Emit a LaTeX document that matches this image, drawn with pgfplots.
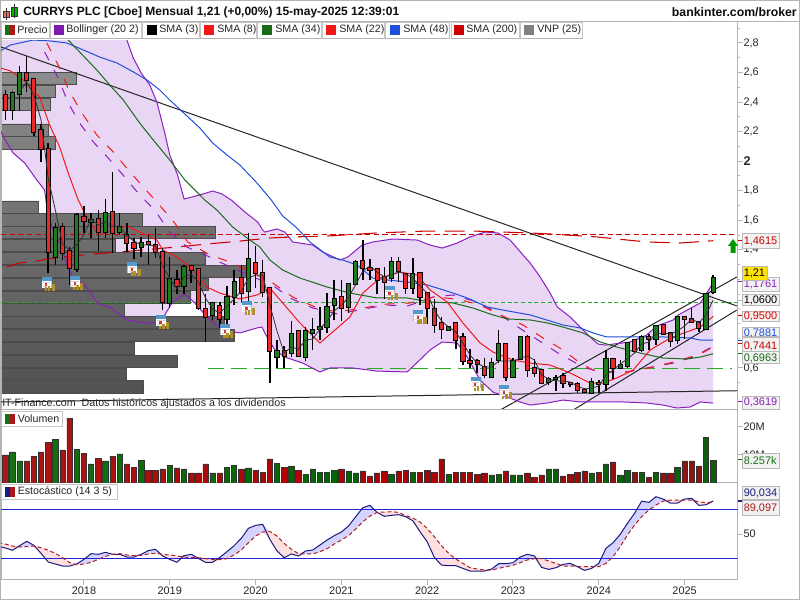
\documentclass[border=0pt]{standalone}
\usepackage{fontspec}
\setmainfont{Liberation Sans}
\usepackage{pgfplots}
\usepackage{pgfplotstable}
\usepgfplotslibrary{fillbetween}
\pgfplotsset{compat=1.18}
\definecolor{cred}{HTML}{E82A2A}
\definecolor{cgreen}{HTML}{1C7C1C}
\definecolor{bolpur}{HTML}{8A1FC0}
\definecolor{bolfill}{HTML}{E9D6F4}
\definecolor{smablue}{HTML}{1F4FD8}
\definecolor{smagreen}{HTML}{1A6B1A}
\definecolor{smared}{HTML}{F01818}
\definecolor{darkr}{HTML}{CC0000}
\definecolor{levelg}{HTML}{22B022}
\definecolor{frame}{HTML}{B4B4B4}
\definecolor{vred}{HTML}{A81818}
\definecolor{vgreen}{HTML}{137013}
\definecolor{stk}{HTML}{1A1A80}
\definecolor{std}{HTML}{B02020}
\definecolor{stline}{HTML}{2424D0}
\definecolor{calblue}{HTML}{5599CC}
\definecolor{calgold}{HTML}{B0902A}
\definecolor{calred}{HTML}{DD3333}
\pgfdeclareplotmark{divcal}{%
  \pgfsetfillcolor{gray!55}\pgfpathrectangle{\pgfpoint{-5.0pt}{-3.2pt}}{\pgfpoint{7.6pt}{8pt}}\pgfusepathqfill
  \pgfsetfillcolor{white}\pgfpathrectangle{\pgfpoint{-4.6pt}{-2.8pt}}{\pgfpoint{6.8pt}{5.4pt}}\pgfusepathqfill
  \pgfsetfillcolor{gray!35}\pgfpathrectangle{\pgfpoint{-4pt}{-2.2pt}}{\pgfpoint{5.6pt}{0.7pt}}\pgfusepathqfill
  \pgfpathrectangle{\pgfpoint{-4pt}{1.0pt}}{\pgfpoint{5.6pt}{0.7pt}}\pgfusepathqfill
  \pgfsetfillcolor{calblue}\pgfpathrectangle{\pgfpoint{-5.0pt}{2.4pt}}{\pgfpoint{7.6pt}{2.8pt}}\pgfusepathqfill
  \pgfsetfillcolor{calred}\pgfpathrectangle{\pgfpoint{-2.4pt}{-1.2pt}}{\pgfpoint{1.8pt}{1.8pt}}\pgfusepathqfill
  \pgfsetfillcolor{calgold}\pgfpathrectangle{\pgfpoint{-2.6pt}{-5.0pt}}{\pgfpoint{1.6pt}{2.4pt}}\pgfusepathqfill
  \pgfpathrectangle{\pgfpoint{-0.4pt}{-5.0pt}}{\pgfpoint{1.9pt}{3.4pt}}\pgfusepathqfill
  \pgfpathrectangle{\pgfpoint{2.6pt}{-5.0pt}}{\pgfpoint{2.3pt}{5.2pt}}\pgfusepathqfill
}

\pgfplotstableread{
m l h b t
-11 2.279 2.482 2.346 2.448
-8 2.468 2.712 2.550 2.597
-7 2.170 2.557 2.197 2.557
-6 1.994 2.252 2.082 2.211
-5 1.243 2.123 1.385 2.082
-3 1.331 1.581 1.378 1.554
-2 1.162 1.419 1.277 1.392
0 1.514 1.696 1.595 1.622
2 1.392 1.669 1.520 1.609
4 1.378 1.927 1.514 1.656
6 1.385 1.581 1.446 1.500
7 1.338 1.480 1.412 1.446
9 1.297 1.500 1.439 1.453
10 1.344 1.547 1.385 1.432
11 0.992 1.412 1.047 1.385
13 1.101 1.263 1.155 1.196
15 1.175 1.297 1.263 1.290
16 0.992 1.270 1.006 1.270
17 0.776 1.101 0.945 0.999
19 0.871 1.047 0.932 1.020
22 1.047 1.297 1.107 1.209
24 1.141 1.426 1.243 1.311
25 1.080 1.331 1.114 1.243
26 0.498 1.148 0.715 1.141
28 0.600 0.749 0.681 0.715
30 0.681 0.850 0.681 0.850
36 0.918 1.196 1.006 1.080
39 1.196 1.466 1.277 1.324
40 1.196 1.338 1.263 1.277
41 1.101 1.277 1.196 1.270
42 1.067 1.284 1.182 1.216
44 1.182 1.351 1.256 1.317
45 1.101 1.236 1.141 1.236
47 1.026 1.243 1.080 1.243
48 0.898 1.107 1.006 1.107
49 0.837 1.067 0.891 0.999
50 0.796 0.945 0.864 0.905
52 0.728 0.905 0.789 0.905
53 0.620 0.837 0.647 0.810
54 0.600 0.728 0.633 0.647
55 0.566 0.661 0.627 0.647
56 0.532 0.667 0.552 0.606
59 0.511 0.769 0.539 0.762
62 0.539 0.823 0.586 0.810
63 0.539 0.661 0.566 0.600
64 0.491 0.593 0.498 0.586
67 0.464 0.566 0.498 0.545
68 0.471 0.505 0.491 0.498
69 0.431 0.505 0.451 0.491
70 0.431 0.464 0.437 0.451
72 0.431 0.518 0.491 0.498
74 0.525 0.661 0.600 0.661
77 0.701 0.796 0.715 0.789
79 0.722 0.830 0.796 0.810
81 0.823 0.898 0.830 0.891
82 0.742 0.844 0.782 0.837
84 0.796 0.945 0.932 0.945
85 0.905 1.006 0.911 0.932
86 0.844 0.918 0.871 0.911
}\candlered
\pgfplotstableread{
m l h b t
-10 2.279 2.475 2.346 2.461
-9 2.339 2.644 2.455 2.597
-4 1.297 1.581 1.351 1.547
-1 1.250 1.649 1.270 1.635
1 1.480 1.649 1.588 1.602
3 1.480 1.744 1.520 1.649
5 1.500 1.649 1.520 1.554
8 1.351 1.487 1.419 1.446
12 1.006 1.351 1.040 1.202
14 1.101 1.297 1.155 1.284
18 0.925 1.047 0.959 1.040
20 0.891 1.155 0.932 1.080
21 1.026 1.263 1.080 1.182
23 1.040 1.514 1.121 1.338
27 0.600 0.789 0.674 0.715
29 0.674 0.918 0.701 0.830
31 0.647 0.877 0.674 0.850
32 0.722 0.938 0.837 0.857
33 0.789 1.013 0.864 0.877
34 0.837 1.107 0.877 1.013
35 0.925 1.196 1.026 1.067
37 0.972 1.175 1.013 1.169
38 1.162 1.331 1.169 1.317
43 1.182 1.351 1.209 1.317
46 1.101 1.344 1.141 1.236
51 0.850 0.877 0.857 0.877
57 0.539 0.667 0.539 0.633
58 0.633 0.857 0.654 0.762
60 0.532 0.667 0.539 0.647
61 0.654 0.810 0.661 0.810
65 0.484 0.539 0.505 0.525
66 0.444 0.552 0.525 0.532
71 0.431 0.532 0.431 0.505
73 0.444 0.722 0.491 0.661
75 0.600 0.654 0.600 0.620
76 0.600 0.776 0.613 0.769
78 0.708 0.823 0.722 0.810
80 0.755 0.891 0.796 0.884
83 0.762 0.952 0.789 0.945
87 0.857 1.107 0.864 1.101
88 1.101 1.229 1.114 1.209
}\candlegreen
\pgfplotstableread{
m v
-11 10.0
-8 7.9
-7 9.6
-6 11.1
-5 14.6
-3 11.8
-2 23.2
0 10.7
2 8.9
4 9.6
6 6.8
7 5.7
9 4.6
10 4.6
11 5.0
13 5.4
15 3.6
16 3.6
17 6.8
19 3.6
22 5.0
24 4.6
25 3.9
26 8.6
28 5.7
30 4.6
36 5.0
39 4.3
40 2.5
41 3.6
42 4.3
44 4.3
45 4.6
47 3.9
48 4.6
49 3.9
50 8.6
52 3.9
53 3.9
54 3.9
55 3.2
56 3.6
59 4.3
62 3.6
63 2.1
64 2.9
67 2.5
68 3.2
69 3.9
70 4.3
72 3.9
74 7.5
77 3.9
79 2.1
81 3.6
82 3.6
84 7.9
85 7.9
86 6.1
}\volred
\pgfplotstableread{
m v
-10 11.1
-9 7.9
-4 15.7
-1 12.1
1 6.8
3 7.9
5 10.4
8 8.2
12 6.4
14 5.0
18 3.6
20 5.7
21 6.4
23 5.4
27 7.1
29 6.1
31 3.2
32 5.0
33 3.9
34 3.9
35 4.6
37 4.3
38 3.6
43 3.2
46 3.9
51 3.2
57 2.9
58 3.2
60 2.9
61 2.9
65 5.0
66 5.0
71 3.6
73 6.8
75 2.9
76 4.6
78 3.9
80 3.9
83 5.7
87 16.4
88 8.2
}\volgreen
\pgfplotstableread{
m p
-11.7 3.30
3.6 3.09
5.0 2.942
6.0 2.820
6.9 2.698
8.0 2.597
9.2 2.516
10.2 2.400
11.3 2.191
12.0 2.042
13.1 1.906
14.0 1.744
16.2 1.771
18.0 1.798
19.3 1.778
20.6 1.737
22.5 1.656
24.3 1.588
25.0 1.534
25.3 1.520
27.0 1.541
28.1 1.520
29.2 1.453
32.0 1.432
33.4 1.385
35.8 1.331
36.9 1.351
38.9 1.432
40.4 1.453
43.2 1.473
46.6 1.466
48.4 1.432
50.1 1.412
52.2 1.446
54.0 1.487
56.1 1.520
57.9 1.514
59.6 1.466
61.4 1.365
62.4 1.311
63.8 1.216
65.2 1.107
66.2 1.013
68.0 0.945
69.4 0.877
70.8 0.810
71.9 0.762
72.9 0.755
76.4 0.776
78.7 0.823
80.1 0.884
82.4 0.925
83.1 0.959
86.2 1.040
86.9 1.094
88.0 1.176
}\bolup
\pgfplotstableread{
m p
-11.7 2.211
-11.0 2.143
-9.9 2.055
-8.3 1.988
-6.6 1.873
-5.5 1.805
-5.2 1.690
-4.5 1.554
-3.4 1.446
-2.4 1.311
-1.5 1.196
-0.1 1.175
1.1 1.094
2.0 1.033
3.6 1.013
6.0 0.925
8.3 0.905
10.2 0.905
11.3 0.959
12.4 1.047
14.1 1.101
15.5 1.040
16.6 0.979
18.0 0.911
19.4 0.857
21.8 0.837
24.2 0.871
24.9 0.877
25.3 0.837
26.7 0.722
28.1 0.674
30.6 0.633
33.0 0.573
34.4 0.600
37.6 0.600
41.0 0.579
45.2 0.573
47.4 0.674
48.4 0.722
50.1 0.776
52.2 0.769
53.6 0.674
55.4 0.518
57.2 0.437
59.2 0.403
61.0 0.370
62.4 0.349
64.8 0.363
67.0 0.383
69.4 0.370
71.7 0.370
75.4 0.370
78.7 0.363
81.0 0.349
82.9 0.329
84.8 0.336
86.2 0.370
88.0 0.362
}\bollo
\pgfplotstableread{
m p
-5.5 2.739
-3.6 2.563
-2.2 2.394
-0.6 2.258
1.3 2.130
3.4 2.021
5.7 1.893
7.8 1.771
9.9 1.669
12.0 1.520
14.4 1.419
17.6 1.351
20.4 1.284
26.3 1.162
29.1 1.067
32.0 1.006
35.5 0.965
42.1 1.026
45.3 1.020
48.8 1.080
51.6 1.094
55.0 1.047
57.9 0.972
60.7 0.877
63.5 0.789
66.3 0.701
69.8 0.606
72.2 0.573
75.9 0.573
78.7 0.600
82.4 0.633
85.2 0.674
87.8 0.742
}\bolmid
\pgfplotstableread{
m p
-9 2.468
-8 2.536
-7 2.448
-6 2.279
-5 1.886
-4 1.669
-3 1.439
-2 1.399
-1 1.432
0 1.500
1 1.609
2 1.568
3 1.588
4 1.561
5 1.561
6 1.493
7 1.459
8 1.432
9 1.432
10 1.426
11 1.290
12 1.209
13 1.135
14 1.216
15 1.236
16 1.182
17 1.074
18 0.999
19 0.972
20 1.020
21 1.067
22 1.121
23 1.209
24 1.229
25 1.229
26 1.026
27 0.850
28 0.701
29 0.742
30 0.728
31 0.789
32 0.796
33 0.864
34 0.918
35 0.986
36 1.026
37 1.080
38 1.162
39 1.256
40 1.290
41 1.250
42 1.216
43 1.229
44 1.250
45 1.236
46 1.209
47 1.155
48 1.107
49 0.992
50 0.918
51 0.877
52 0.844
53 0.769
54 0.688
55 0.633
56 0.606
57 0.606
58 0.647
59 0.647
60 0.647
61 0.667
62 0.681
63 0.654
64 0.552
65 0.525
66 0.512
67 0.512
68 0.505
69 0.478
70 0.458
71 0.464
72 0.478
73 0.552
74 0.586
75 0.627
76 0.661
77 0.701
78 0.762
79 0.776
80 0.830
81 0.837
82 0.830
83 0.850
84 0.884
85 0.932
86 0.905
87 0.959
88 1.060
}\smathree
\pgfplotstableread{
m p
-11.7 2.631
-10.3 2.611
-8.5 2.550
-6.2 2.434
-4.8 2.245
-3.4 2.096
-2.2 1.920
-0.8 1.737
0.1 1.649
2.0 1.500
3.2 1.520
6.0 1.561
7.8 1.520
10.2 1.466
11.0 1.399
13.0 1.351
14.8 1.284
17.2 1.148
19.0 1.107
21.8 1.067
24.2 1.094
26.0 1.141
27.8 1.040
30.2 0.905
33.0 0.769
37.2 0.945
39.0 1.107
41.4 1.209
44.2 1.250
46.6 1.229
48.4 1.128
50.8 1.047
53.0 0.905
55.4 0.769
57.2 0.708
60.0 0.654
62.4 0.633
65.2 0.620
68.0 0.566
70.8 0.498
72.6 0.498
74.5 0.532
76.8 0.586
79.2 0.722
82.0 0.803
84.3 0.844
86.2 0.877
88.0 0.950
}\smaeight
\pgfplotstableread{
m p
-3.4 2.888
-2.2 2.820
-0.6 2.739
1.8 2.617
3.6 2.516
5.5 2.414
7.8 2.258
9.7 2.143
12.0 2.008
14.1 1.873
16.9 1.737
18.6 1.669
20.8 1.554
23.2 1.466
24.6 1.419
26.0 1.331
27.8 1.263
30.2 1.209
34.0 1.148
37.2 1.107
41.0 1.074
45.2 1.074
48.4 1.047
51.6 1.040
54.4 1.006
57.2 0.959
59.2 0.932
62.4 0.925
64.8 0.905
67.0 0.877
69.8 0.837
72.2 0.776
74.5 0.742
77.8 0.701
81.0 0.667
84.3 0.661
86.2 0.674
88.0 0.696
}\smathirtyfour
\pgfplotstableread{
m p
-5.2 2.800
-3.4 2.631
-2.0 2.468
-0.1 2.313
1.8 2.177
4.1 2.062
6.2 1.940
8.3 1.825
10.3 1.717
12.7 1.581
14.5 1.453
17.6 1.365
20.8 1.311
26.4 1.175
29.2 1.080
32.3 1.013
35.4 0.979
39.0 1.006
42.4 1.033
45.6 1.040
48.8 1.080
52.2 1.067
55.4 1.026
58.2 0.959
61.4 0.891
64.2 0.803
67.0 0.722
69.4 0.633
71.7 0.573
75.9 0.573
79.6 0.606
82.4 0.640
86.2 0.694
88.0 0.744
}\smatwentytwo
\pgfplotstableread{
m p
-11.7 2.746
-10.3 2.786
-7.1 2.820
-4.8 2.814
-2.4 2.800
-0.1 2.753
2.2 2.705
4.6 2.665
6.9 2.604
8.8 2.550
10.6 2.482
12.0 2.414
13.8 2.333
16.2 2.225
18.0 2.123
20.0 2.042
21.8 1.974
24.2 1.852
26.2 1.737
27.8 1.629
29.8 1.547
31.6 1.453
34.4 1.351
36.2 1.331
38.2 1.297
40.4 1.209
42.4 1.196
45.2 1.182
48.0 1.162
51.2 1.114
53.6 1.074
56.4 1.013
58.6 0.992
62.4 0.959
65.2 0.918
67.0 0.891
69.4 0.871
71.2 0.837
73.1 0.810
76.4 0.810
81.0 0.810
84.8 0.803
86.2 0.789
88.0 0.788
}\smafortyeight
\pgfplotstableread{
m p
-10.8 1.284
-9.0 1.311
-6.6 1.324
-3.4 1.351
1.3 1.371
5.0 1.385
13.0 1.419
17.2 1.439
21.8 1.459
26.0 1.480
29.2 1.487
34.0 1.493
41.0 1.514
48.0 1.527
54.4 1.527
62.4 1.514
65.2 1.507
71.7 1.487
78.7 1.453
83.4 1.446
88.0 1.4615
}\smatwohundred
\pgfplotstableread{
w p
75 2.560
54 2.473
49 2.386
47 2.211
54 2.124
37 1.690
141 1.603
214 1.516
114 1.429
204 1.342
246 1.255
207 1.168
189 1.081
123 0.994
223 0.907
233 0.820
133 0.733
176 0.646
125 0.559
142 0.472
}\vnp
\pgfplotstableread{
m p
-5 1.169
-1 1.175
7 1.270
11 0.911
20 0.850
23 1.006
43 1.107
47 0.945
55 0.491
59 0.437
}\divs
\pgfplotstableread{
m k d
-12 35.4 38.6
-11 33.0 37.8
-10 30.2 35.4
-9 35.8 34.2
-8 41.1 34.6
-7 36.2 35.4
-6 26.5 33.3
-5 16.0 30.2
-4 13.5 26.5
-3 11.1 21.2
-2 11.1 15.2
-1 13.5 12.7
0 19.2 13.5
1 26.1 15.6
2 25.3 19.2
3 27.7 22.8
4 25.3 25.3
5 25.3 26.1
6 22.0 24.5
7 22.0 23.7
8 25.3 24.1
9 29.8 25.7
10 31.4 26.5
11 23.3 25.3
12 19.2 24.5
13 15.6 23.3
14 23.7 22.0
15 25.3 21.2
16 20.4 21.2
17 15.6 20.0
18 15.6 18.8
19 21.6 18.8
20 28.5 20.0
21 35.8 24.5
22 44.7 30.6
23 56.9 39.4
24 60.5 47.5
25 61.7 52.4
26 43.5 53.2
27 29.4 47.5
28 21.2 38.6
29 25.7 31.4
30 23.3 26.1
31 29.4 25.7
32 30.6 25.7
33 36.6 28.5
34 42.7 32.1
35 48.0 37.8
36 52.4 42.7
37 59.7 48.0
38 71.0 56.0
39 82.0 64.9
40 84.8 71.8
41 76.3 76.3
42 71.5 76.7
43 72.7 77.1
44 73.5 76.3
45 71.0 72.3
46 66.1 69.4
47 52.8 64.5
48 40.6 56.8
49 21.6 46.7
50 12.3 35.8
51 11.5 26.5
52 11.5 19.6
53 8.2 14.3
54 5.0 9.0
55 5.0 7.4
56 5.0 6.2
57 7.4 6.2
58 13.9 8.2
59 13.9 10.3
60 15.1 11.9
61 22.0 15.1
62 25.3 18.4
63 23.3 20.0
64 9.4 20.0
65 7.0 17.2
66 9.0 14.3
67 13.1 11.1
68 14.3 11.1
69 10.3 10.7
70 5.8 10.3
71 8.2 10.3
72 14.3 10.3
73 32.5 14.3
74 39.4 22.4
75 49.6 34.6
76 62.9 48.7
77 75.1 60.9
78 90.0 71.0
79 88.4 79.1
80 95.3 85.2
81 92.5 90.0
82 87.6 91.2
83 87.6 91.2
84 92.5 91.2
85 93.3 91.2
86 84.8 89.2
87 85.6 88.0
88 90.03 89.10
}\stoch

\pgfplotsset{
  common/.style={scale only axis, width=552.375pt, xmin=-11.6, xmax=91.4,
    axis line style={draw=frame,line width=0.75pt}, tick style={draw=frame,line width=0.75pt},
    tick align=outside, major tick length=3.75pt, minor tick length=2.2pt,
    ytick pos=right, yticklabel pos=right,
    every tick label/.append style={font=\fontsize{8.2}{10}\selectfont, inner sep=0pt, text=black!85},
    yticklabel style={anchor=west, xshift=0.6pt}},
  price/.style={common, height=291pt, ymin=0.3156, ymax=2.942, at={(0.75pt,142.5pt)}, anchor=south west},
}
\newcommand{\wick}[2]{\addplot[draw=none,forget plot,error bars/.cd,y dir=plus,y explicit,error mark=none,
   error bar style={black,line width=1.1pt}] table[x=m,y=l,y error plus expr=\thisrow{h}-\thisrow{l}] {#1};}
\newcommand{\body}[2]{%
 \addplot[draw=none,forget plot,error bars/.cd,y dir=plus,y explicit,error mark=none,
   error bar style={black,line width=3.9pt}] table[x=m,y expr=\thisrow{b}-0.005,y error plus expr=\thisrow{t}-\thisrow{b}+0.010] {#1};
 \addplot[draw=none,forget plot,error bars/.cd,y dir=plus,y explicit,error mark=none,
   error bar style={#2,line width=2.4pt}] table[x=m,y=b,y error plus expr=\thisrow{t}-\thisrow{b}] {#1};}
\newcommand{\legbox}[6]{% x0 x1 swatchx textx swatch text
  \draw[draw=gray!45,fill=white,line width=0.6pt] (#1,22.5) rectangle (#2,38);
  \draw[draw=gray!60,line width=0.75pt] (#1,38.5) -- (#2,38.5);
  \fill[#5] (#3,25) rectangle ++(10,10);
  \node[anchor=west,inner sep=0pt,font=\fontsize{8}{10}\selectfont,text=black!85] at (#4,30) {#6};}
\newcommand{\callout}[6]{% y0 y1 ycenter color text fill
  \draw[draw=gray!55,fill=#6,line width=0.6pt] (742,#1) rectangle (779,#2);
  \node[anchor=west,inner sep=0pt,font=\fontsize{8.2}{10}\selectfont,text=#4] at (743.5,#3) {#5};}

\begin{document}
\begin{tikzpicture}

% Bollinger band fill
\begin{axis}[price, xtick=\empty, ytick=\empty, axis line style={draw=none}, tick style={draw=none}]
\addplot[draw=none,name path=UP] table[x=m,y=p] {\bolup};
\addplot[draw=none,name path=LO] table[x=m,y=p] {\bollo};
\addplot[bolfill] fill between[of=UP and LO];
\end{axis}

% Volume by price
\begin{axis}[scale only axis, width=552.375pt, height=291pt, at={(0.75pt,142.5pt)}, anchor=south west,
  hide axis, xmin=0, xmax=736.5, ymin=0.3156, ymax=2.942]
\addplot[xbar, bar width=9.1pt, draw=black!70, line width=0.5pt, top color=black!45, bottom color=black!68, bar shift=0pt]
  table[x=w,y=p] {\vnp};
\end{axis}

% Price panel
\begin{axis}[price,
  xtick={0,12,...,84}, xticklabels={}, xtick pos=bottom, major x tick style={draw=none},
  ytick={0.6,1.4,1.6,1.8,2.0,2.2,2.4,2.6,2.8},
  yticklabels={{0,6},{1,4},{1,6},{1,8},{\fontsize{9.5}{11}\selectfont\bfseries 2},{2,2},{2,4},{2,6},{2,8}},
  minor ytick={0.5,0.7,0.8,0.9,1.0,1.1,1.2,1.3,1.5,1.7,1.9,2.1,2.3,2.5,2.7,2.9},
  extra y ticks={1.06}, extra y tick labels={}, 
  ]
% levels
\addplot[darkr,line width=0.75pt,dash pattern=on 4pt off 2.5pt] coordinates {(-11.6,1.5025) (91.4,1.5025)};
\addplot[levelg,line width=0.75pt,dash pattern=on 3pt off 2pt] coordinates {(-11.6,1.043) (91.4,1.043)};
\addplot[levelg,line width=0.75pt,dash pattern=on 12pt off 5pt] coordinates {(17.4,0.597) (90.6,0.597)};
% trend lines
\addplot[black!85,line width=0.75pt] coordinates {(-11.6,2.773) (91.3,1.020)};
\addplot[black!85,line width=0.75pt] coordinates {(-11.6,0.370) (91.3,0.446)};
\addplot[black!85,line width=0.75pt] coordinates {(68.4,0.315) (91.3,0.992)};
\addplot[black!85,line width=0.75pt] coordinates {(58.2,0.315) (91.3,1.216)};
% band lines
\addplot[bolpur,line width=0.75pt] table[x=m,y=p] {\bolup};
\addplot[bolpur,line width=0.75pt] table[x=m,y=p] {\bollo};
\addplot[bolpur,line width=0.75pt,dash pattern=on 7pt off 8pt] table[x=m,y=p] {\bolmid};
% moving averages
\addplot[darkr,line width=0.8pt,dash pattern=on 15pt off 7pt] table[x=m,y=p] {\smatwohundred};
\addplot[smared,line width=0.75pt,dash pattern=on 7pt off 8pt] table[x=m,y=p] {\smatwentytwo};
\addplot[smablue,line width=0.75pt] table[x=m,y=p] {\smafortyeight};
\addplot[smagreen,line width=0.75pt] table[x=m,y=p] {\smathirtyfour};
\addplot[smared,line width=0.75pt] table[x=m,y=p] {\smaeight};
% candles
\wick{\candlered}{}
\wick{\candlegreen}{}
\body{\candlered}{cred}
\body{\candlegreen}{cgreen}
\addplot[black!80,line width=0.6pt] table[x=m,y=p] {\smathree};
\addplot[only marks,mark=divcal] table[x=m,y=p] {\divs};
\end{axis}

% Volume
\begin{axis}[common, height=54.75pt, at={(0.75pt,87.75pt)}, anchor=south west, ymin=0, ymax=26.07,
  xtick=\empty, ytick={10,20}, yticklabels={{10M},{20M}}, ybar, bar width=4pt]
\addplot[bar shift=0pt,draw=black!80,line width=0.45pt,left color=vred,right color=vred!85!black,middle color=red!70!black] table[x=m,y=v] {\volred};
\addplot[bar shift=0pt,draw=black!80,line width=0.45pt,left color=vgreen,right color=vgreen!85!black,middle color=green!40!black] table[x=m,y=v] {\volgreen};
\end{axis}

% Stochastic
\begin{axis}[common, height=72.375pt, at={(0.75pt,15.375pt)}, anchor=south west, ymin=-5.3, ymax=112,
  xtick={0,12,...,84}, xticklabels={2018,2019,2020,2021,2022,2023,2024,2025}, xtick pos=bottom,
  ytick={50}, yticklabels={50}, xticklabel style={yshift=-1.8pt}]
\addplot[draw=none,name path=Dd] table[x=m,y=d] {\stoch};
\addplot[draw=none,name path=Up] table[x=m,y expr={max(\thisrow{k},\thisrow{d})}] {\stoch};
\addplot[draw=none,name path=Lo] table[x=m,y expr={min(\thisrow{k},\thisrow{d})}] {\stoch};
\addplot[fill=blue!17] fill between[of=Up and Dd];
\addplot[fill=red!12] fill between[of=Lo and Dd];
\addplot[stline,line width=0.75pt] coordinates {(-11.6,80) (91.4,80)};
\addplot[stline,line width=0.75pt] coordinates {(-11.6,20) (91.4,20)};
\addplot[stk,line width=0.75pt] table[x=m,y=k] {\stoch};
\addplot[std,line width=0.75pt,dash pattern=on 3pt off 2pt] table[x=m,y=d] {\stoch};
\end{axis}

% Chrome in pixel coordinates
\begin{scope}[x=0.75pt,y=-0.75pt,yshift=450pt]
\fill[white] (1.5,22) rectangle (737,40);
\draw[frame,line width=0.75pt] (0.5,0.5) rectangle (799.5,599.5);
\fill[white] (1,1) rectangle (799,21);
\draw[frame,line width=0.75pt] (0,21.5) -- (800,21.5);
\draw[frame,line width=0.75pt] (737.5,21.5) -- (737.5,30);
% title
\draw[black!80,line width=0.6pt,fill=cred!70] (3.5,11) rectangle (9.5,17); \draw[black!80,line width=0.6pt] (6.5,8)--(6.5,20);
\draw[black!80,line width=0.6pt,fill=green!70!black] (11,7) rectangle (17,16); \draw[black!80,line width=0.6pt] (14,4)--(14,18);
\node[anchor=west,inner sep=0pt,font=\fontsize{9}{10}\selectfont\bfseries,text=black!95] at (23,12) {CURRYS PLC [Cboe] Mensual 1,21 (+0,00\%) 15-may-2025 12:39:01};
\node[anchor=east,inner sep=0pt,font=\fontsize{9.2}{10}\selectfont\bfseries,text=black!95] at (797,12) {bankinter.com/broker};
% legends
\legbox{1}{49}{5}{17}{vred}{Precio}
\fill[vgreen] (5,25) rectangle (10,35);
\legbox{50}{141}{54}{66}{bolpur!90!black}{Bollinger (20 2)}
\legbox{142}{199}{147}{159}{black}{SMA (3)}
\legbox{200}{256}{204}{217}{smared}{SMA (8)}
\legbox{257}{321}{262}{275}{smagreen}{SMA (34)}
\legbox{322}{384}{326}{339}{smared}{SMA (22)}
\legbox{385}{449}{390}{403}{smablue}{SMA (48)}
\legbox{451}{519}{454}{466}{darkr}{SMA (200)}
\legbox{520}{582}{524}{537}{gray}{VNP (25)}
% panel legends
\draw[draw=gray!45,fill=white,line width=0.6pt] (1,411.5) rectangle (62,426);
\fill[vgreen] (5,414) rectangle (10,424); \fill[vred] (10,414) rectangle (15,424);
\node[anchor=west,inner sep=0pt,font=\fontsize{8}{10}\selectfont,text=black!85] at (17.5,419) {Volumen};
\draw[draw=gray!45,fill=white,line width=0.6pt] (1,484.5) rectangle (117,499.5);
\fill[stk] (5,487) rectangle (10,497); \fill[vred] (10,487) rectangle (15,497);
\node[anchor=west,inner sep=0pt,font=\fontsize{8}{10}\selectfont,text=black!85] at (17.5,492) {Estocástico (14 3 5)};
% note
\node[anchor=west,inner sep=0pt,font=\fontsize{8}{10}\selectfont,text=black!85] at (2,404) {IT-Finance.com\ \ Datos históricos ajustados a los dividendos};
% arrow
\fill[green!60!black] (733,239)--(738,246)--(735.5,246)--(735.5,253)--(730.5,253)--(730.5,246)--(728,246)--cycle;
% callouts
\callout{233.5}{248}{241}{darkr}{1,4615}{black!5}
\draw[darkr,line width=0.75pt] (737.5,241)--(742,241);
\callout{277}{291}{284.5}{bolpur}{1,1761}{black!5}
\draw[bolpur,line width=0.75pt] (737.5,282)--(742,282);
\draw[draw=gray!55,fill=yellow!85!orange,line width=0.6pt] (742,266) rectangle (767,280);
\node[anchor=west,inner sep=0pt,font=\fontsize{8.2}{10}\selectfont,text=black] at (743.5,273) {1,21};
\callout{294}{305}{300}{black}{1,0600}{black!5}
\callout{311}{321}{316}{red!90!black}{0,9500}{black!5}
\draw[red!90!black,line width=0.75pt] (737.5,316)--(742,316);
\callout{327}{336}{333}{smablue}{0,7881}{black!5}
\callout{337.5}{352}{346}{darkr}{0,7441}{black!5}
\callout{351}{363.5}{358}{smagreen}{0,6963}{black!5}
\draw[smablue,line width=0.75pt] (737.5,341)--(742,341);
\draw[darkr,line width=0.75pt] (737.5,343.5)--(742,343.5);
\draw[smagreen,line width=0.75pt] (737.5,354)--(742,354);
\callout{396}{409}{402.5}{bolpur}{0,3619}{black!5}
\draw[bolpur,line width=0.75pt] (737.5,402)--(742,402);
\callout{453}{468}{460.5}{vgreen}{8.257k}{black!5}
\draw[vgreen,line width=0.75pt] (737.5,460)--(742,460);
\callout{486}{499}{493}{stk}{90,034}{black!5}
\callout{500}{515}{508}{vred}{89,097}{black!5}
\draw[stk,line width=1pt] (737.5,501)--(742,501);
\end{scope}
\pgfresetboundingbox
\path[use as bounding box] (0,0) rectangle (600pt,450pt);
\end{tikzpicture}
\end{document}
